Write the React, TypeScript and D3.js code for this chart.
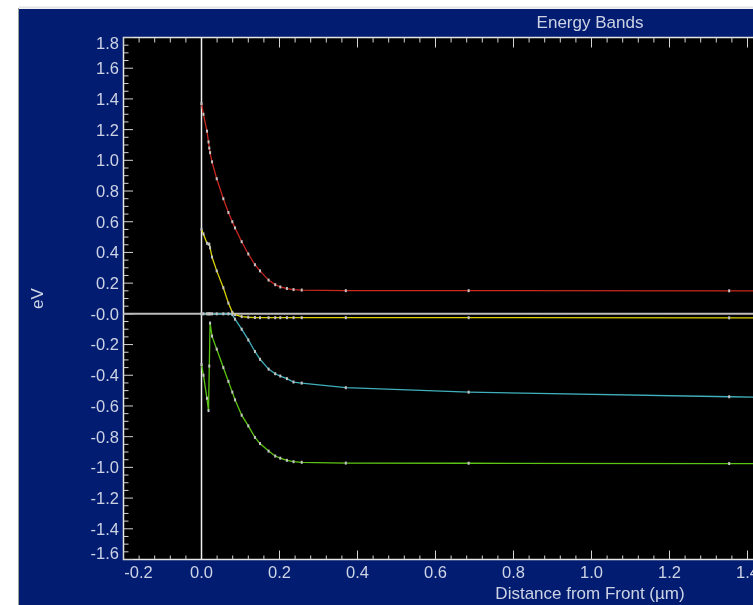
import { useEffect, useRef } from "react";
import * as d3 from "d3";

// Distance from front (µm) and band energies (eV)
const DISTANCE = [0, 0.005, 0.014, 0.018, 0.02, 0.022, 0.027, 0.039, 0.056, 0.069, 0.079, 0.086, 0.103, 0.12, 0.137, 0.15, 0.172, 0.189, 0.202, 0.219, 0.236, 0.257, 0.37, 0.685, 1.353, 2.2];
const EC = [1.37, 1.3, 1.19, 1.12, 1.08, 1.05, 0.99, 0.88, 0.75, 0.66, 0.6, 0.56, 0.47, 0.39, 0.32, 0.28, 0.22, 0.19, 0.175, 0.165, 0.158, 0.155, 0.151, 0.151, 0.15, 0.15];
const EFN = [0.55, 0.52, 0.46, 0.455, 0.453, 0.43, 0.37, 0.28, 0.17, 0.07, 0.01, -0.005, -0.018, -0.022, -0.024, -0.025, -0.025, -0.025, -0.025, -0.025, -0.025, -0.025, -0.025, -0.025, -0.026, -0.027];
const EFP = [0, 0, 0, 0, 0, 0, 0, 0, 0, 0, -0.005, -0.035, -0.1, -0.17, -0.245, -0.296, -0.36, -0.39, -0.405, -0.422, -0.444, -0.451, -0.481, -0.51, -0.54, -0.57];
const EV = [-0.33, -0.4, -0.55, -0.63, -0.34, -0.06, -0.145, -0.23, -0.35, -0.44, -0.51, -0.56, -0.66, -0.73, -0.805, -0.845, -0.894, -0.926, -0.94, -0.954, -0.963, -0.967, -0.972, -0.973, -0.975, -0.976];

const SERIES = [
  { name: "Ec", values: EC, color: "#c8281e" },
  { name: "Efn", values: EFN, color: "#dcd400" },
  { name: "Efp", values: EFP, color: "#40b0bc" },
  { name: "Ev", values: EV, color: "#5cc414" },
];

const X_TICKS = [-0.2, 0, 0.2, 0.4, 0.6, 0.8, 1.0, 1.2, 1.4];
const Y_TICKS = [1.8, 1.6, 1.4, 1.2, 1.0, 0.8, 0.6, 0.4, 0.2, 0, -0.2, -0.4, -0.6, -0.8, -1.0, -1.2, -1.4, -1.6];

const W = 753;
const H = 605;
const FONT = "'Liberation Sans', Arial, sans-serif";
const TEXT = "#cdd3e3";

const fmt = (v: number) => d3.format(".1f")(v).replace("\u2212", "-");

export default function App() {
  const svgRef = useRef<SVGSVGElement>(null);

  useEffect(() => {
    const svg = d3.select(svgRef.current);
    svg.selectAll("*").remove();

    const left = 123.5, top = 37.5, bottom = 559.5;

    const x = d3.scaleLinear().domain([-0.2, 2.2]).range([left, left + 936]);
    const y = d3.scaleLinear().domain([-1.6, 1.8]).range([bottom, top]);
    const right = x(2.2);

    // panel
    svg.append("rect").attr("width", W).attr("height", H).attr("fill", "#fff");
    svg.append("line").attr("x1", 19).attr("x2", W).attr("y1", 7.5).attr("y2", 7.5)
      .attr("stroke", "#e4e4e4").attr("stroke-width", 2);
    svg.append("line").attr("x1", 18.5).attr("x2", 18.5).attr("y1", 8).attr("y2", H)
      .attr("stroke", "#9aa09a").attr("stroke-width", 1);
    svg.append("rect").attr("x", 19).attr("y", 9).attr("width", W).attr("height", H)
      .attr("fill", "#021c72");

    // plot area
    svg.append("rect").attr("x", left).attr("y", top)
      .attr("width", right - left).attr("height", bottom - top)
      .attr("fill", "#000").attr("stroke", "#e6e6e6").attr("stroke-width", 1.5);

    const g = svg.append("g");

    // minor / major ticks, pointing inward
    const xMinor = d3.range(-0.2, 2.2001, 0.04);
    xMinor.forEach((v, i) => {
      const major = i % 5 === 0;
      const px = x(v);
      g.append("line").attr("x1", px).attr("x2", px).attr("y1", top).attr("y2", top + (major ? 10 : 5))
        .attr("stroke", "#d4d4d4").attr("stroke-width", 1);
      g.append("line").attr("x1", px).attr("x2", px).attr("y1", bottom).attr("y2", bottom - (major ? 9 : 4))
        .attr("stroke", "#d4d4d4").attr("stroke-width", 1);
    });
    const yMinor = d3.range(-1.6, 1.8001, 0.05);
    yMinor.forEach((v, i) => {
      const major = i % 4 === 0;
      const py = y(v);
      g.append("line").attr("x1", left).attr("x2", left + (major ? 9.5 : 5)).attr("y1", py).attr("y2", py)
        .attr("stroke", "#d4d4d4").attr("stroke-width", 1);
    });

    // tick labels
    X_TICKS.forEach((v) => {
      const px = Math.max(x(v), left + 15);
      svg.append("text").attr("x", px).attr("y", 578)
        .attr("text-anchor", "middle").attr("font-family", FONT).attr("font-size", 16.5)
        .attr("fill", TEXT).text(fmt(v));
    });
    Y_TICKS.forEach((v) => {
      const py = Math.min(Math.max(y(v), top + 6), bottom - 6);
      svg.append("text").attr("x", 119).attr("y", py).attr("dy", "0.36em")
        .attr("text-anchor", "end").attr("font-family", FONT).attr("font-size", 16.5)
        .attr("fill", TEXT).text(v === 0 ? "-0.0" : fmt(v));
    });

    // titles
    svg.append("text").attr("x", 590).attr("y", 28).attr("text-anchor", "middle")
      .attr("font-family", FONT).attr("font-size", 17).attr("fill", TEXT).text("Energy Bands");
    svg.append("text").attr("x", 590).attr("y", 599).attr("text-anchor", "middle")
      .attr("font-family", FONT).attr("font-size", 17).attr("fill", TEXT).text("Distance from Front (µm)");
    svg.append("text").attr("transform", `translate(43, ${(top + bottom) / 2}) rotate(-90)`)
      .attr("text-anchor", "middle").attr("font-family", FONT).attr("font-size", 17)
      .attr("fill", TEXT).text("eV");

    // zero lines
    g.append("line").attr("x1", left).attr("x2", right).attr("y1", y(0)).attr("y2", y(0))
      .attr("stroke", "#bdbdbd").attr("stroke-width", 2);
    g.append("line").attr("x1", x(0)).attr("x2", x(0)).attr("y1", top).attr("y2", bottom)
      .attr("stroke", "#f0f0f0").attr("stroke-width", 1.5);

    // curves
    const line = d3.line<number>()
      .x((_, i) => x(DISTANCE[i]))
      .y((d) => y(d));

    SERIES.forEach((s) => {
      g.append("path").attr("d", line(s.values))
        .attr("fill", "none").attr("stroke", s.color).attr("stroke-width", 1.3);
      g.selectAll(null).data(s.values).enter().append("rect")
        .attr("x", (_, i) => x(DISTANCE[i]) - 1)
        .attr("y", (d) => y(d) - 1.5)
        .attr("width", 2).attr("height", 3)
        .attr("fill", "#c4c4c4");
    });
  }, []);

  return (
    <div style={{ position: "fixed", left: 0, top: 0 }}>
      <svg ref={svgRef} width={W} height={H} style={{ display: "block" }} />
    </div>
  );
}
